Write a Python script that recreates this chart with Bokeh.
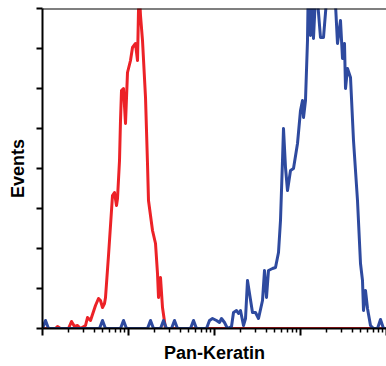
from bokeh.plotting import figure
from bokeh.models import Range1d, FixedTicker, Span
from bokeh.embed import file_html
from bokeh.resources import INLINE

# ---- data ----
red_x = [1.000, 1.416, 1.494, 1.619, 2.006, 2.174, 2.356, 2.553, 2.766, 3.162,
         3.337, 3.615, 4.133, 4.479, 4.725, 4.985, 5.259, 5.403, 5.854, 6.516,
         6.875, 7.253, 7.450, 7.861, 8.072, 8.291, 8.747, 9.228, 9.736, 10.55,
         11.13, 12.06, 12.73, 13.07, 13.43, 13.79, 14.55, 15.77, 16.63, 17.08,
         19.02, 20.61, 21.74, 22.33, 23.56, 24.85, 26.93, 10000]
red_y = [0, 0, 0.05, 0, 0, 0.175, 0.05, 0.075, 0, 0.075,
         0.275, 0.2, 0.575, 0.75, 0.7, 0.525, 0.625, 0.775, 1.825, 3.325,
         3.4, 3.075, 3.25, 4.2, 5.2, 5.95, 6.0, 5.125, 6.4, 6.7,
         7.025, 7.125, 6.7, 7.95, 8.3, 7.825, 7.2, 5.775, 4.125, 3.2,
         2.45, 2.125, 1.375, 0.775, 1.275, 0.525, 0, 0]

blue_x = [1.000, 1.084, 1.174, 4.600, 4.985, 5.403, 8.072, 8.747, 9.479, 16.63,
          18.03, 19.53, 23.56, 25.53, 27.66, 31.62, 34.26, 37.13, 52.59, 56.98,
          61.75, 80.72, 87.47, 94.78, 105.5, 114.3, 120.6, 130.7, 141.6, 157.7,
          166.3, 180.3, 190.1, 200.6, 217.4, 229.4, 241.9, 255.3, 276.6, 299.7,
          324.8, 361.5, 381.4, 402.4, 424.5, 472.5, 512.0, 554.8, 585.3, 617.6,
          634.3, 669.2, 706.1, 765.1, 829.1, 922.8, 1000, 1055, 1084, 1143,
          1206, 1225, 1273, 1307, 1379, 1416, 1494, 1577, 1708, 1851,
          2006, 2116, 2233, 2553, 2693, 2918, 3079, 3248, 3337, 3520,
          3815, 4133, 4600, 4985, 5259, 5403, 5698, 6012, 6516, 7061,
          7861, 8516, 9228, 10000]
blue_y = [0, 0.2, 0, 0, 0.2, 0, 0, 0.2, 0, 0,
          0.2, 0, 0, 0.2, 0, 0, 0.2, 0, 0, 0.2,
          0, 0, 0.2, 0.25, 0.2, 0.15, 0.25, 0.15, 0, 0.05,
          0.4, 0.45, 0.375, 0.45, 0.075, 0.25, 1.2, 0.875, 0.4, 0.4,
          0.25, 0.7, 1.45, 0.775, 1.45, 1.5, 1.525, 1.9, 2.7, 4.2,
          5.0, 4.025, 3.45, 3.95, 4.0, 4.625, 5.45, 5.7, 5.275, 5.7,
          7.2, 8.2, 8.3, 7.325, 8.2, 7.25, 8.3, 8.2, 7.275, 7.275,
          8.2, 8.3, 8.3, 8.1, 7.125, 7.7, 6.75, 7.125, 6.0, 6.5,
          6.275, 4.7, 3.2, 1.625, 1.2, 0.45, 0.95, 0.5, 0.075, 0,
          0, 0.225, 0, 0]

y_ticks = [0, 1, 2, 3, 4, 5, 6, 7, 8]
x_major_ticks = [1, 10, 100, 1000, 10000]
x_minor_ticks = [m * d for d in (1, 10, 100, 1000) for m in range(2, 10)]
x_title = "Pan-Keratin"
y_title = "Events"

FONT = "Liberation Sans"

p = figure(width=386, height=366, x_axis_type="log",
           x_range=Range1d(1, 10000), y_range=Range1d(0, 8),
           output_backend="svg", toolbar_location=None,
           min_border_left=42, min_border_right=0, min_border_top=8, min_border_bottom=38)
p.outline_line_color = None
p.grid.visible = False
p.background_fill_color = "white"
p.border_fill_color = "white"

p.line(red_x, red_y, line_color="#EC2227", line_width=3, line_join="round")
p.line(blue_x, blue_y, line_color="#2E4A9F", line_width=3, line_join="round")

xa = p.xaxis[0]
xa.ticker = FixedTicker(ticks=x_major_ticks, minor_ticks=x_minor_ticks)
xa.axis_line_width = 2
xa.major_tick_out = 7
xa.major_tick_in = 0
xa.major_tick_line_width = 2
xa.minor_tick_out = 4
xa.minor_tick_in = 0
xa.minor_tick_line_width = 1.5
xa.major_label_text_font_size = "1px"
xa.major_label_text_color = None
xa.major_label_standoff = 0
xa.axis_label = x_title
xa.axis_label_text_font = FONT
xa.axis_label_text_font_style = "bold"
xa.axis_label_text_font_size = "18px"
xa.axis_label_text_color = "black"
xa.axis_label_standoff = 7

ya = p.yaxis[0]
ya.ticker = FixedTicker(ticks=y_ticks)
ya.axis_line_width = 2
ya.major_tick_out = 6
ya.major_tick_in = 0
ya.major_tick_line_width = 2
ya.minor_tick_line_color = None
ya.major_label_text_font_size = "1px"
ya.major_label_text_color = None
ya.major_label_standoff = 0
ya.axis_label = y_title
ya.axis_label_text_font = FONT
ya.axis_label_text_font_style = "bold"
ya.axis_label_text_font_size = "18px"
ya.axis_label_text_color = "black"
ya.axis_label_standoff = 9

p.add_layout(Span(location=8, dimension="width", line_color="black", line_width=2))

open("out.html", "w").write(file_html(p, INLINE))
